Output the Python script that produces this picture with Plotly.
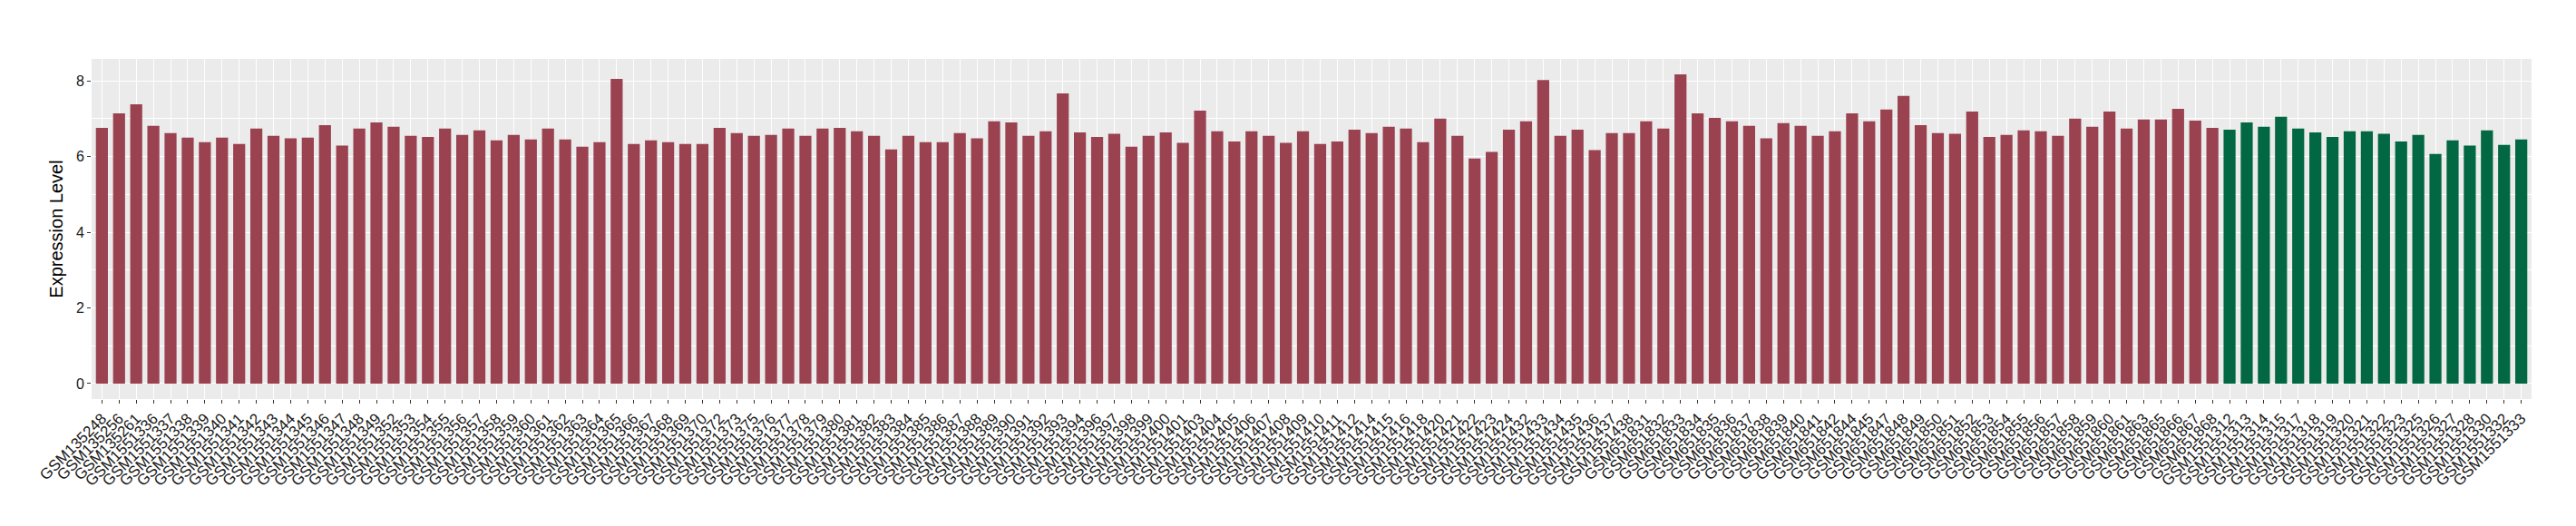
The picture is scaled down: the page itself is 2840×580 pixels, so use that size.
"""
Expression level bar chart per GEO sample, two sample groups.
"""

import plotly.graph_objects as go

COLOR_GROUP_A = "#9B4251"
COLOR_GROUP_B = "#026843"
PANEL_BG = "#EBEBEB"
FONT = "Liberation Sans, Arial, sans-serif"

samples_a = [
    "GSM135248", "GSM135256", "GSM135261",
    "GSM1551336", "GSM1551337", "GSM1551338", "GSM1551339", "GSM1551340", "GSM1551341",
    "GSM1551342", "GSM1551343", "GSM1551344", "GSM1551345", "GSM1551346", "GSM1551347",
    "GSM1551348", "GSM1551349", "GSM1551352", "GSM1551353", "GSM1551354", "GSM1551355",
    "GSM1551356", "GSM1551357", "GSM1551358", "GSM1551359", "GSM1551360", "GSM1551361",
    "GSM1551362", "GSM1551363", "GSM1551364", "GSM1551365", "GSM1551366", "GSM1551367",
    "GSM1551368", "GSM1551369", "GSM1551370", "GSM1551372", "GSM1551373", "GSM1551375",
    "GSM1551376", "GSM1551377", "GSM1551378", "GSM1551379", "GSM1551380", "GSM1551381",
    "GSM1551382", "GSM1551383", "GSM1551384", "GSM1551385", "GSM1551386", "GSM1551387",
    "GSM1551388", "GSM1551389", "GSM1551390", "GSM1551391", "GSM1551392", "GSM1551393",
    "GSM1551394", "GSM1551396", "GSM1551397", "GSM1551398", "GSM1551399", "GSM1551400",
    "GSM1551401", "GSM1551403", "GSM1551404", "GSM1551405", "GSM1551406", "GSM1551407",
    "GSM1551408", "GSM1551409", "GSM1551410", "GSM1551411", "GSM1551412", "GSM1551414",
    "GSM1551415", "GSM1551416", "GSM1551418", "GSM1551420", "GSM1551421", "GSM1551422",
    "GSM1551423", "GSM1551424", "GSM1551432", "GSM1551433", "GSM1551434", "GSM1551435",
    "GSM1551436", "GSM1551437", "GSM1551438",
    "GSM651831", "GSM651832", "GSM651833", "GSM651834", "GSM651835", "GSM651836",
    "GSM651837", "GSM651838", "GSM651839", "GSM651840", "GSM651841", "GSM651842",
    "GSM651844", "GSM651845", "GSM651847", "GSM651848", "GSM651849", "GSM651850",
    "GSM651851", "GSM651852", "GSM651853", "GSM651854", "GSM651855", "GSM651856",
    "GSM651857", "GSM651858", "GSM651859", "GSM651860", "GSM651861", "GSM651863",
    "GSM651865", "GSM651866", "GSM651867", "GSM651868",
]

values_a = [
    6.76, 7.14, 7.38, 6.81, 6.62, 6.50, 6.38, 6.50, 6.33, 6.74,
    6.55, 6.48, 6.50, 6.83, 6.29, 6.74, 6.90, 6.79, 6.55, 6.52,
    6.74, 6.57, 6.69, 6.43, 6.57, 6.45, 6.74, 6.45, 6.26, 6.38,
    8.05, 6.33, 6.43, 6.38, 6.33, 6.33, 6.76, 6.62, 6.55, 6.57,
    6.74, 6.55, 6.74, 6.76, 6.67, 6.55, 6.19, 6.55, 6.38, 6.38,
    6.62, 6.48, 6.93, 6.90, 6.55, 6.67, 7.67, 6.64, 6.52, 6.60,
    6.26, 6.55, 6.64, 6.36, 7.21, 6.67, 6.40, 6.67, 6.55, 6.36,
    6.67, 6.33, 6.40, 6.71, 6.62, 6.79, 6.74, 6.38, 7.00, 6.55,
    5.95, 6.12, 6.71, 6.93, 8.02, 6.55, 6.71, 6.17, 6.62, 6.62,
    6.93, 6.74, 8.17, 7.14, 7.02, 6.93, 6.81, 6.48, 6.88, 6.81,
    6.55, 6.67, 7.14, 6.93, 7.24, 7.60, 6.83, 6.62, 6.60, 7.19,
    6.52, 6.57, 6.69, 6.67, 6.55, 7.00, 6.79, 7.19, 6.74, 6.98,
    6.98, 7.26, 6.95, 6.76,
]

samples_b = [
    "GSM1551312", "GSM1551313", "GSM1551314", "GSM1551315", "GSM1551317", "GSM1551318",
    "GSM1551319", "GSM1551320", "GSM1551321", "GSM1551322", "GSM1551323", "GSM1551325",
    "GSM1551326", "GSM1551327", "GSM1551328", "GSM1551330", "GSM1551332", "GSM1551333",
]

values_b = [
    6.71, 6.90, 6.79, 7.05, 6.74, 6.64, 6.52, 6.67, 6.67, 6.60,
    6.40, 6.57, 6.07, 6.43, 6.29, 6.69, 6.31, 6.45,
]


def build_expression_chart() -> go.Figure:
    samples = samples_a + samples_b
    values = values_a + values_b
    colors = [COLOR_GROUP_A] * len(samples_a) + [COLOR_GROUP_B] * len(samples_b)

    fig = go.Figure()
    fig.add_trace(go.Bar(x=samples, y=values, marker=dict(color=colors, line=dict(width=0))))

    n = len(samples)
    ymax = max(values)
    fig.update_layout(
        width=2840,
        height=580,
        plot_bgcolor=PANEL_BG,
        paper_bgcolor="#FFFFFF",
        font=dict(family=FONT, color="#1A1A1A"),
        showlegend=False,
        bargap=0.3,
        margin=dict(l=93, r=57, t=57, b=148),
        xaxis=dict(
            type="category",
            range=[-0.6, n - 0.4],
            tickmode="array",
            tickvals=samples,
            ticktext=samples,
            tickangle=-45,
            tickfont=dict(size=17, color="#1A1A1A"),
            ticks="outside",
            ticklen=4,
            tickcolor="#333333",
            showgrid=True,
            gridcolor="#FFFFFF",
            gridwidth=1.3,
            zeroline=False,
            showline=False,
            automargin=False,
        ),
        yaxis=dict(
            title=dict(text="Expression Level", font=dict(size=20, color="#000000"), standoff=8),
            range=[-0.05 * ymax, ymax * 1.05],
            tickvals=[0, 2, 4, 6, 8],
            tickfont=dict(size=16, color="#1A1A1A"),
            ticks="outside",
            ticklen=4,
            tickcolor="#333333",
            showgrid=True,
            gridcolor="#FFFFFF",
            gridwidth=1.3,
            minor=dict(dtick=1, showgrid=True, gridcolor="#FFFFFF", gridwidth=0.6),
            zeroline=False,
            showline=False,
        ),
    )
    return fig


fig = build_expression_chart()
fig.write_html("out.html")
